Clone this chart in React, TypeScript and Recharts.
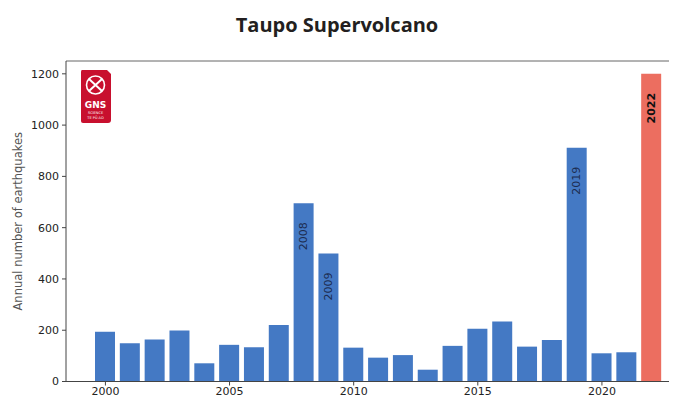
import React from 'react';
import { BarChart, Bar, XAxis, YAxis, Cell, LabelList, ReferenceLine } from 'recharts';

const years = [2000, 2001, 2002, 2003, 2004, 2005, 2006, 2007, 2008, 2009, 2010, 2011, 2012, 2013, 2014, 2015, 2016, 2017, 2018, 2019, 2020, 2021, 2022];
const quakes = [194, 149, 164, 199, 71, 143, 134, 220, 695, 499, 132, 93, 103, 46, 139, 206, 234, 136, 162, 912, 110, 114, 1200];
const labeledYears = [2008, 2009, 2019, 2022];
const highlightYear = 2022;
const xTicks = [2000, 2005, 2010, 2015, 2020];
const yTicks = [0, 200, 400, 600, 800, 1000, 1200];

const data = years.map((year, i) => ({
  year,
  count: quakes[i],
  tag: labeledYears.includes(year) ? String(year) : '',
}));

const BLUE = '#4479c4';
const RED = '#ec6e60';
const AXIS = '#444';
const TICK_FONT = { fontFamily: 'DejaVu Sans', fontSize: 11, fill: '#222' };

const YearTag = (props: any) => {
  const { x, y, width, value } = props;
  if (!value) return null;
  const cx = x + width / 2;
  const top = y + 19;
  const bold = value === String(highlightYear);
  return (
    <text
      transform={`translate(${cx}, ${top}) rotate(-90)`}
      textAnchor="end"
      dominantBaseline="central"
      fontFamily="DejaVu Sans"
      fontSize={11}
      fontWeight={bold ? 'bold' : 'normal'}
      fill={bold ? '#111' : '#1c2c50'}
    >
      {value}
    </text>
  );
};

const YTitle = (props: any) => {
  const vb = props.viewBox;
  return (
    <text
      transform={`translate(${vb.x + 18}, ${vb.y + vb.height / 2}) rotate(-90)`}
      textAnchor="middle"
      dominantBaseline="central"
      fontFamily="DejaVu Sans"
      fontSize={11.5}
      fill="#555"
    >
      Annual number of earthquakes
    </text>
  );
};

// small stand-in for the GNS Science badge in the corner
const GnsBadge = () => (
  <svg width={32} height={55} viewBox="0 0 32 55" style={{ position: 'absolute', left: 80, top: 70 }}>
    <path d="M2 0 H27 L31 4 V50 Q31 53 28 53 H3 Q1 53 1 51 V2 Q1 0 2 0 Z" fill="#c8102e" />
    <circle cx={15.5} cy={15} r={9} fill="none" stroke="#fff" strokeWidth={1.6} />
    <path d="M9 9 L22 21 M22 9 L9 21" stroke="#fff" strokeWidth={2} />
    <text x={15.5} y={38} textAnchor="middle" fontFamily="DejaVu Sans" fontWeight="bold" fontSize={9} fill="#fff">GNS</text>
    <text x={15.5} y={44} textAnchor="middle" fontFamily="DejaVu Sans" fontSize={3.5} fill="#fff">SCIENCE</text>
    <text x={15.5} y={49} textAnchor="middle" fontFamily="DejaVu Sans" fontSize={3.5} fill="#fff">TE PŪ AO</text>
  </svg>
);

export default function App() {
  return (
    <div style={{ position: 'absolute', left: 0, top: 0, width: 674, height: 401, background: '#fff', overflow: 'hidden' }}>
      <div
        style={{
          position: 'absolute', left: 0, top: 11, width: 674, textAlign: 'center',
          fontFamily: '"Open Sans", sans-serif', fontWeight: 700, fontSize: 20, lineHeight: '28px', color: '#231f20',
        }}
      >
        Taupo Supervolcano
      </div>
      <div style={{ position: 'absolute', left: 0, top: 0, width: 669, height: 401, overflow: 'hidden' }}>
        <BarChart
          width={700}
          height={401}
          data={data}
          margin={{ top: 61, right: 10, left: 0, bottom: 0 }}
        >
          <XAxis
            dataKey="year"
            ticks={xTicks}
            interval={0}
            height={19.5}
            padding={{ left: 27, right: 26 }}
            tick={TICK_FONT}
            tickSize={4}
            tickMargin={2}
            axisLine={{ stroke: AXIS }}
            tickLine={{ stroke: AXIS }}
          />
          <YAxis
            type="number"
            domain={[0, 1250]}
            ticks={yTicks}
            width={66}
            tick={TICK_FONT}
            tickSize={4}
            tickMargin={3}
            axisLine={{ stroke: AXIS }}
            tickLine={{ stroke: AXIS }}
            label={<YTitle />}
          />
          <ReferenceLine y={1250} stroke="#666" ifOverflow="extendDomain" />
          <Bar dataKey="count" barSize={20} isAnimationActive={false}>
            {data.map((d) => (
              <Cell key={d.year} fill={d.year === highlightYear ? RED : BLUE} />
            ))}
            <LabelList dataKey="tag" content={<YearTag />} />
          </Bar>
        </BarChart>
      </div>
      <GnsBadge />
    </div>
  );
}
